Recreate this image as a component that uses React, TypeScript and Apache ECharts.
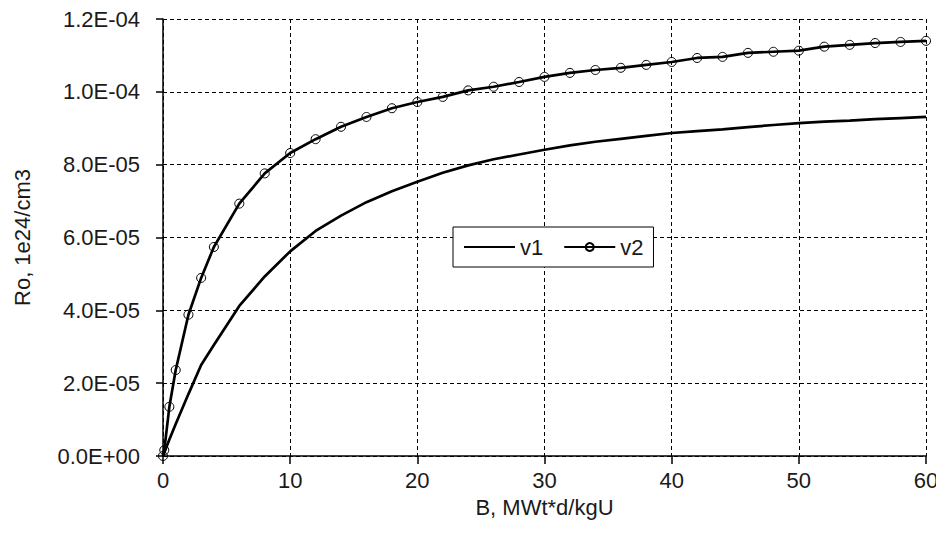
import React, { useEffect, useRef } from "react";
import * as echarts from "echarts";

const burnupV1 = [0, 0.5, 1, 2, 3, 4, 6, 8, 10, 12, 14, 16, 18, 20, 22, 24, 26, 28, 30, 32, 34, 36, 38, 40, 42, 44, 46, 48, 50, 52, 54, 56, 58, 60];
const valuesV1 = [0, 0.45e-5, 0.88e-5, 1.7e-5, 2.5e-5, 3.05e-5, 4.12e-5, 4.93e-5, 5.62e-5, 6.18e-5, 6.6e-5, 6.97e-5, 7.27e-5, 7.53e-5, 7.78e-5, 7.98e-5, 8.15e-5, 8.28e-5, 8.41e-5, 8.53e-5, 8.63e-5, 8.71e-5, 8.79e-5, 8.87e-5, 8.92e-5, 8.97e-5, 9.03e-5, 9.09e-5, 9.14e-5, 9.18e-5, 9.21e-5, 9.25e-5, 9.28e-5, 9.31e-5];

const burnupV2 = [0, 0.1, 0.5, 1, 2, 3, 4, 6, 8, 10, 12, 14, 16, 18, 20, 22, 24, 26, 28, 30, 32, 34, 36, 38, 40, 42, 44, 46, 48, 50, 52, 54, 56, 58, 60];
const valuesV2 = [0, 1.6e-6, 1.35e-5, 2.36e-5, 3.88e-5, 4.89e-5, 5.74e-5, 6.93e-5, 7.76e-5, 8.32e-5, 8.7e-5, 9.04e-5, 9.31e-5, 9.55e-5, 9.72e-5, 9.86e-5, 1.004e-4, 1.014e-4, 1.027e-4, 1.041e-4, 1.052e-4, 1.06e-4, 1.066e-4, 1.074e-4, 1.082e-4, 1.093e-4, 1.096e-4, 1.107e-4, 1.11e-4, 1.113e-4, 1.124e-4, 1.129e-4, 1.134e-4, 1.137e-4, 1.14e-4];

const seriesNames = ["v1", "v2"];
const xAxisTitle = "B, MWt*d/kgU";
const yAxisTitle = "Ro, 1e24/cm3";

const FONT = "Liberation Sans, Arial, sans-serif";
const TXT = "#1a1a1a";

function fmtExp(v: number): string {
  const s = v.toExponential(1);
  const [m, e] = s.split("e");
  const n = parseInt(e, 10);
  const sign = n < 0 ? "-" : "+";
  return m + "E" + sign + String(Math.abs(n)).padStart(2, "0");
}

export default function App() {
  const ref = useRef<HTMLDivElement>(null);
  useEffect(() => {
    if (!ref.current) return;
    const chart = echarts.init(ref.current, undefined, { renderer: "svg" });
    const dash = { color: "#000", width: 1, type: [4, 3] as any };
    chart.setOption({
      animation: false,
      backgroundColor: "#fff",
      textStyle: { fontFamily: FONT },
      grid: { left: 163, top: 19, right: 18, bottom: 94, containLabel: false },
      legend: {
        left: 453,
        top: 227,
        orient: "horizontal",
        backgroundColor: "#fff",
        borderColor: "#000",
        borderWidth: 1,
        borderRadius: 0,
        padding: [9, 10, 9, 10],
        itemWidth: 51,
        itemHeight: 10,
        itemGap: 20,
        textStyle: { fontSize: 22, color: TXT, fontFamily: FONT },
        data: [
          { name: seriesNames[0], itemStyle: { color: "rgba(0,0,0,0)", borderWidth: 0, opacity: 0 } },
          { name: seriesNames[1] },
        ],
      },
      xAxis: {
        type: "value",
        min: 0,
        max: 60,
        interval: 10,
        name: xAxisTitle,
        nameLocation: "middle",
        nameGap: 40,
        nameTextStyle: { fontSize: 22, color: TXT, fontFamily: FONT },
        axisLine: { show: true, onZero: false, lineStyle: { color: "#000", width: 1.5 } },
        axisTick: { show: true, inside: false, length: 8, lineStyle: { color: "#000", width: 1.5 } },
        axisLabel: { fontSize: 22, color: TXT, margin: 13, fontFamily: FONT },
        splitLine: { show: true, lineStyle: dash },
      },
      yAxis: {
        type: "value",
        min: 0,
        max: 1.2e-4,
        interval: 2e-5,
        name: yAxisTitle,
        nameLocation: "middle",
        nameGap: 130,
        nameRotate: 90,
        nameTextStyle: { fontSize: 22, color: TXT, fontFamily: FONT },
        axisLine: { show: true, onZero: false, lineStyle: { color: "#000", width: 1.5 } },
        axisTick: { show: true, inside: false, length: 7, lineStyle: { color: "#000", width: 1.5 } },
        axisLabel: { fontSize: 22, color: TXT, margin: 23, fontFamily: FONT, formatter: (v: number) => fmtExp(v) },
        splitLine: { show: true, lineStyle: dash },
      },
      series: [
        {
          name: seriesNames[0],
          type: "line",
          data: burnupV1.map((x, i) => [x, valuesV1[i]]),
          symbol: "none",
          showSymbol: false,
          lineStyle: { color: "#000", width: 2.7 },
          itemStyle: { color: "rgba(0,0,0,0)" },
          z: 3,
        },
        {
          name: seriesNames[1],
          type: "line",
          data: burnupV2.map((x, i) => [x, valuesV2[i]]),
          symbol: "circle",
          symbolSize: 9,
          showSymbol: true,
          lineStyle: { color: "#000", width: 2.7 },
          itemStyle: { color: "rgba(255,255,255,0)", borderColor: "#000", borderWidth: 1 },
          z: 4,
        },
      ],
    });
    return () => chart.dispose();
  }, []);
  return <div ref={ref} style={{ width: 944, height: 550, margin: -8 }} />;
}
